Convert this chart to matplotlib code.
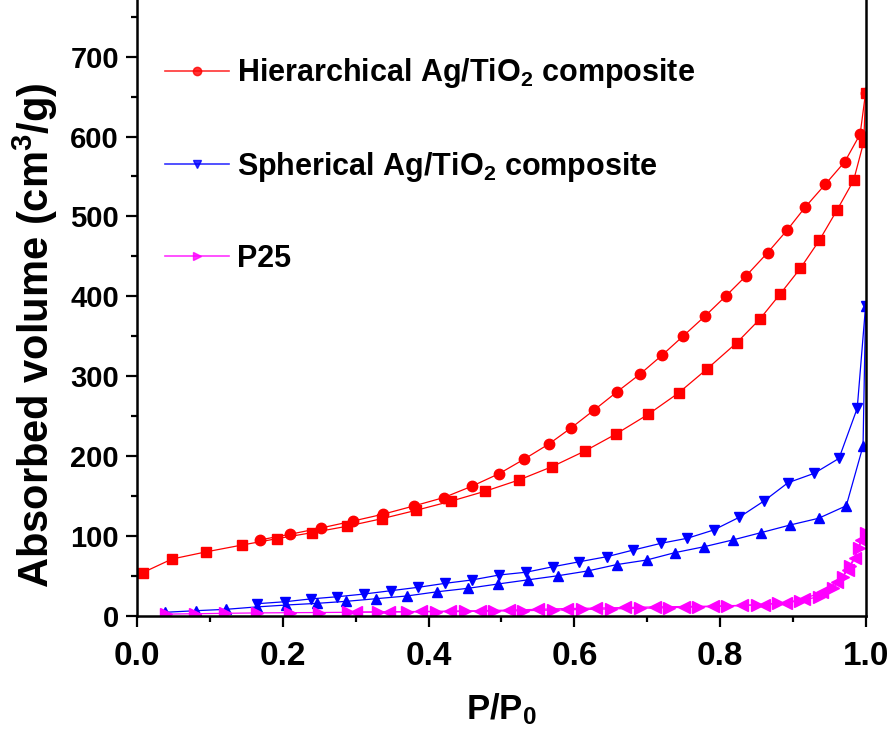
import matplotlib
matplotlib.use("Agg")
import matplotlib.pyplot as plt
from matplotlib.lines import Line2D
from matplotlib.ticker import MultipleLocator, FormatStrFormatter

plt.rcParams["font.family"] = ["Liberation Sans", "DejaVu Sans"]
plt.rcParams["font.weight"] = "bold"
plt.rcParams["axes.labelweight"] = "bold"
plt.rcParams["mathtext.fontset"] = "custom"
plt.rcParams["mathtext.rm"] = "Liberation Sans:bold"
plt.rcParams["mathtext.it"] = "Liberation Sans:bold"
plt.rcParams["mathtext.bf"] = "Liberation Sans:bold"

# hierarchical Ag/TiO2: adsorption (squares), desorption (circles)
hier_ads_x = [0.008, 0.048, 0.095, 0.144, 0.192, 0.240, 0.288, 0.336, 0.383, 0.431, 0.478, 0.524,
              0.569, 0.615, 0.657, 0.701, 0.743, 0.782, 0.823, 0.854, 0.882, 0.910, 0.936, 0.960,
              0.983, 0.997, 0.9995]
hier_ads_y = [54, 71, 80, 88.5, 96.5, 104, 112, 121.5, 132, 143.5, 156, 170,
              186.5, 206.5, 227.5, 252, 279, 309, 342, 371, 402.5, 435, 470, 507.5,
              545, 593.5, 655]
hier_des_x = [0.9995, 0.992, 0.971, 0.944, 0.917, 0.892, 0.865, 0.836, 0.808, 0.779, 0.749, 0.720,
              0.690, 0.658, 0.627, 0.596, 0.565, 0.531, 0.497, 0.459, 0.421, 0.380, 0.337, 0.296,
              0.253, 0.210, 0.169]
hier_des_y = [655, 603, 568.5, 540, 512, 483, 454.5, 426, 400.5, 375, 350, 326,
              302.5, 280, 257.5, 235.5, 215, 196, 178, 162, 148, 137.5, 127, 118.5,
              110, 102, 95]

# spherical Ag/TiO2
sph_ads_x = [0.039, 0.081, 0.122, 0.164, 0.205, 0.247, 0.287, 0.328, 0.370, 0.412, 0.454, 0.495,
             0.537, 0.577, 0.618, 0.658, 0.699, 0.738, 0.778, 0.817, 0.856, 0.896, 0.935, 0.973,
             0.996, 0.9995]
sph_ads_y = [4.3, 6.3, 8, 11, 13.4, 15.5, 18, 21.3, 24.7, 30, 34.3, 39.7,
             45, 50, 56, 64, 69.7, 79, 86.4, 94.8, 104, 113.6, 122, 137.7,
             212.5, 388]
sph_des_x = [0.9995, 0.988, 0.963, 0.929, 0.893, 0.860, 0.826, 0.791, 0.755, 0.719, 0.681, 0.645,
             0.607, 0.571, 0.534, 0.497, 0.459, 0.423, 0.386, 0.348, 0.312, 0.275, 0.238, 0.203,
             0.164]
sph_des_y = [388, 259.7, 197, 178.3, 166.5, 143.6, 123.2, 107.3, 97, 90.7, 82.3, 74,
             67.6, 61.4, 54.5, 51, 44.7, 40.6, 35.6, 31.3, 27.2, 23.8, 21, 17.5,
             15]

# P25
p25_ads_x = [0.04, 0.08, 0.12, 0.165, 0.21, 0.25, 0.29, 0.33, 0.37, 0.41, 0.45, 0.49, 0.53,
             0.57, 0.61, 0.65, 0.69, 0.73, 0.77, 0.81, 0.85, 0.88, 0.91, 0.935, 0.955, 0.968,
             0.978, 0.99, 0.9995]
p25_ads_y = [2, 2.5, 3, 3.5, 3.8, 4, 4.3, 4.5, 4.8, 5, 5.3, 5.8, 6.3,
             7, 7.8, 8.5, 9.3, 10, 11, 12, 13.5, 15.5, 18.5, 24, 35, 48,
             62, 85, 104]
p25_des_x = [0.9995, 0.993, 0.985, 0.975, 0.96, 0.94, 0.915, 0.89, 0.86, 0.83, 0.79, 0.75,
             0.71, 0.67, 0.63, 0.59, 0.55, 0.51, 0.47, 0.43, 0.39, 0.345, 0.30]
p25_des_y = [104, 95, 72, 57, 42, 30, 21, 16.5, 14, 13, 12, 11.5,
             11, 10.3, 9.5, 9, 8, 7, 6.3, 5.8, 5.3, 5, 4.5]

labels = ["Hierarchical Ag/TiO$_2$ composite", "Spherical Ag/TiO$_2$ composite", "P25"]

fig = plt.figure(figsize=(8.91, 7.38), dpi=100)
ax = fig.add_axes([0.1538, 0.1657, 0.8181, 0.8343])

kw = dict(lw=0.9, ms=7.5)
ax.plot(hier_ads_x, hier_ads_y, color="#ff0000", marker="s", ms=7, lw=0.9)
ax.plot(hier_des_x, hier_des_y, color="#ff0000", marker="o", **kw)
ax.plot(sph_ads_x, sph_ads_y, color="#0000ff", marker="^", **kw)
ax.plot(sph_des_x, sph_des_y, color="#0000ff", marker="v", **kw)
ax.plot(p25_ads_x, p25_ads_y, color="#ff00ff", marker=">", ms=8, lw=0.9)
ax.plot(p25_des_x, p25_des_y, color="#ff00ff", marker="<", ms=8, lw=0.9)

ax.set_xlim(0, 1.0)
ax.set_ylim(0, 771)
ax.xaxis.set_major_locator(MultipleLocator(0.2))
ax.xaxis.set_minor_locator(MultipleLocator(0.1))
ax.yaxis.set_minor_locator(MultipleLocator(50))
ax.set_yticks(range(0, 701, 100))
ax.tick_params(which="both", direction="out", width=1.6)
ax.tick_params(which="major", length=8)
ax.tick_params(which="minor", length=4.5)
ax.tick_params(axis="x", labelsize=24, pad=10)
ax.tick_params(axis="y", labelsize=21, pad=5)
ax.xaxis.set_major_formatter(FormatStrFormatter("%.1f"))
ax.spines["top"].set_visible(False)
for s in ["left", "right", "bottom"]:
    ax.spines[s].set_linewidth(1.8)

ax.set_xlabel("P/P$_0$", fontsize=25, labelpad=14)
ax.set_ylabel("Absorbed volume (cm$^3$/g)", fontsize=30)
ax.yaxis.set_label_coords(-0.106, 0.456)

handles = [
    Line2D([], [], color="#ff0000", marker="o", ms=6, lw=1.2, alpha=0.8),
    Line2D([], [], color="#0000ff", marker="v", ms=6, lw=1.2, alpha=0.8),
    Line2D([], [], color="#ff00ff", marker=">", ms=6, lw=1.2, alpha=0.8),
]
ax.legend(handles, labels, loc="upper left", bbox_to_anchor=(0.001, 0.953), frameon=False,
          fontsize=22, handlelength=2.1, handletextpad=0.25, labelspacing=1.95)

fig.savefig("out.png", dpi=100)
